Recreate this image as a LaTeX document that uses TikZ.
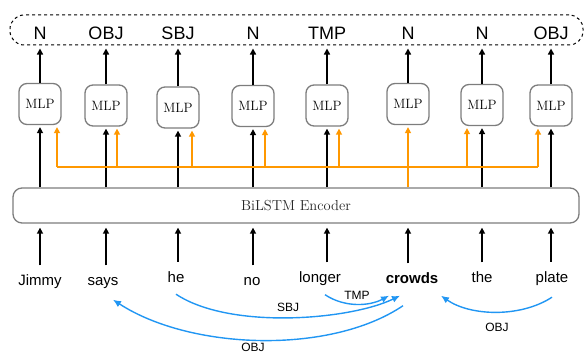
\documentclass[tikz,border=0pt]{standalone}
\usepackage{fontspec}
\setsansfont{Liberation Sans}
\usetikzlibrary{arrows.meta}
\definecolor{depblue}{RGB}{33,150,243}
\definecolor{mlporange}{RGB}{255,152,0}
\definecolor{boxgray}{RGB}{125,125,125}

\begin{document}
\begin{tikzpicture}[x=1pt,y=-1pt,
  mlp/.style={draw=boxgray, line width=1.3pt, rounded corners=8pt, minimum width=42pt, minimum height=41pt, inner sep=0pt, font=\fontsize{13.5}{13.5}\selectfont},
  encoder/.style={draw=boxgray, line width=1.3pt, rounded corners=9pt, minimum width=566pt, minimum height=35pt, inner sep=0pt, text=black!85, font=\fontsize{14.5}{14.5}\selectfont},
  tagbox/.style={draw, dashed, line width=1pt, rounded corners=14pt, minimum width=573pt, minimum height=30pt, inner sep=0pt},
  tag/.style={inner sep=0pt, font=\sffamily\fontsize{18}{18}\selectfont},
  word/.style={inner xsep=2pt, inner ysep=9pt, text height=11pt, text depth=3pt, font=\sffamily\fontsize{15}{15}\selectfont},
  deplabel/.style={inner sep=1pt, font=\sffamily\fontsize{12}{12}\selectfont},
  flow/.style={-{Triangle[length=6pt,width=6pt]}, line width=1.5pt},
  bus/.style={mlporange, line width=1.5pt},
  busarrow/.style={bus, -{Triangle[length=6pt,width=6pt]}},
  dep/.style={depblue, line width=1.4pt, -{Latex[length=8pt,width=7pt]}}]
  \useasboundingbox (0,0) rectangle (585,353);

  % boxes
  \node[tagbox] (tags) at (296.5,30) {};
  \node[encoder] (enc) at (296,205.5) {BiLSTM Encoder};
  \coordinate (busline) at (0,167);

  % one column per word
  \foreach \n/\x/\y/\t in {1/40/104/N, 2/106/105.5/OBJ, 3/178/107.5/SBJ, 4/253/106/N,
                           5/327/105.5/TMP, 6/408/104/N, 7/482/105/N, 8/551/105.5/OBJ} {
    \node[mlp] (m\n) at (\x,\y) {MLP};
    \node[tag, anchor=base] (t\n) at (\x,39) {\t};
    \draw[flow, shorten >=3pt] (m\n.north) -- (m\n.north |- tags.south);
  }

  % words
  \foreach \n/\x/\y/\w in {1/40/285.5/Jimmy, 2/103/285.5/says, 3/176/282/he, 4/252/285.5/no,
                           5/320/282.5/longer, 6/412/283.5/\textbf{crowds}, 7/482/282.5/the, 8/552/282/plate} {
    \node[word, anchor=base] (w\n) at (\x,\y) {\w};
    \draw[flow, shorten >=4pt] (m\n |- w\n.north) -- (m\n |- enc.south);
  }

  % encoder to MLP
  \foreach \n in {1,2,3,4,5,7,8}
    \draw[flow, shorten >=2pt] (m\n |- enc.north) -- (m\n.south);
  \draw[busarrow, shorten >=2pt] (m6 |- enc.north) -- (m6.south);
  \draw[bus] ([xshift=17pt]m1.south |- busline) -- ([xshift=-13pt]m8.south |- busline);
  \foreach \n/\o in {1/17, 2/11, 3/14, 4/12, 5/12, 7/-15, 8/-13}
    \draw[busarrow, shorten >=2pt] ([xshift=\o pt]m\n.south |- busline) -- ([xshift=\o pt]m\n.south);

  % dependency arcs
  \draw[dep] (w3.south) .. controls (230,330) and (350,320) .. ([xshift=-12pt]w6.south);
  \draw[dep] ([xshift=5pt]w5.south) .. controls (345,308) and (370,306) .. ([xshift=-23pt]w6.south);
  \draw[dep] ([xshift=-9pt,yshift=-10pt]w6.south) .. controls (330,355) and (190,350) .. ([xshift=10pt,yshift=-2pt]w2.south);
  \draw[dep] ([yshift=-3pt]w8.south) .. controls (520,318) and (470,316) .. ([xshift=29pt]w6.south);
  \node[deplabel] (sbj) at (288,307) {SBJ};
  \node[deplabel] (tmp) at (357,295) {TMP};
  \node[deplabel] (obja) at (253,347) {OBJ};
  \node[deplabel] (objb) at (497,327) {OBJ};
\end{tikzpicture}
\end{document}
